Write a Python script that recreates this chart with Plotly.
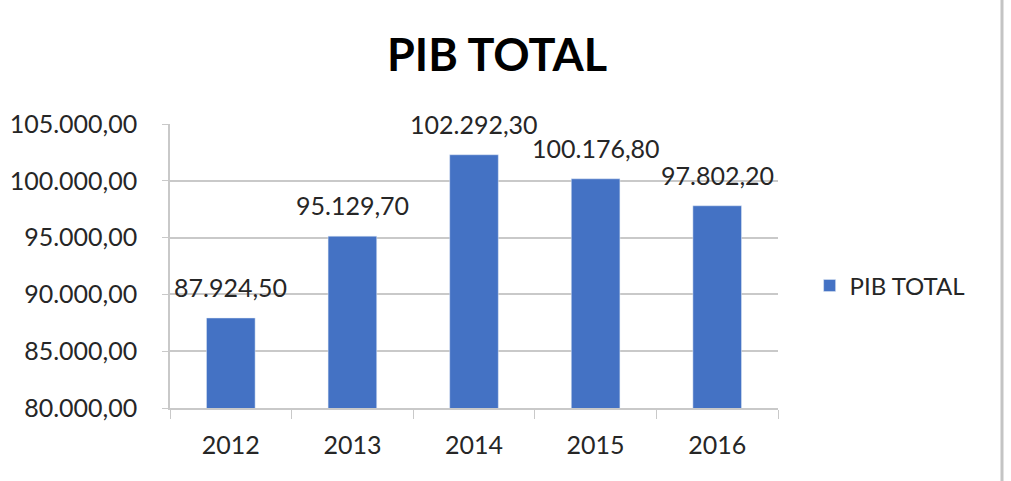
import plotly.graph_objects as go

years = ["2012", "2013", "2014", "2015", "2016"]
pib_total = [87924.50, 95129.70, 102292.30, 100176.80, 97802.20]
tick_vals = [80000, 85000, 90000, 95000, 100000, 105000]
tick_text = ["80.000,00", "85.000,00", "90.000,00", "95.000,00", "100.000,00", "105.000,00"]


def fmt(v):
    s = f"{v:,.2f}"
    return s.replace(",", "X").replace(".", ",").replace("X", ".")


FONT = "Lato"
TXT = "#262626"
BLUE = "#4472C4"
GRID = "#c9c9c9"

fig = go.Figure()
fig.add_trace(go.Bar(
    x=years, y=pib_total, name="PIB TOTAL", marker_color=BLUE,
    width=0.4, showlegend=True,
))

# data labels (category axis -> position by category index)
for i, v in enumerate(pib_total):
    fig.add_annotation(x=i, y=v, text=fmt(v), showarrow=False, yanchor="middle",
                       yshift=31, font=dict(family=FONT, size=25, color=TXT))

fig.update_layout(
    width=1011, height=481,
    margin=dict(l=170, r=233, t=124, b=73, autoexpand=False),
    paper_bgcolor="white", plot_bgcolor="white",
    title=dict(text="<b>PIB TOTAL</b>", x=497 / 1011, xanchor="center",
               y=1 - 55 / 481, yanchor="middle",
               font=dict(family=FONT, size=45, color="#000000")),
    legend=dict(x=1.052, y=0.43, xanchor="left", yanchor="middle",
                font=dict(family=FONT, size=24, color=TXT),
                itemwidth=30, bgcolor="rgba(0,0,0,0)"),
    font=dict(family=FONT, color=TXT),
)

fig.update_yaxes(range=[80000, 105000], tickvals=tick_vals, ticktext=tick_text,
                 showgrid=True, gridcolor=GRID, gridwidth=1.5,
                 showline=True, linecolor=GRID, linewidth=1.5,
                 ticks="outside", ticklen=6, tickcolor=GRID,
                 ticklabelstandoff=20, zeroline=False, automargin=False,
                 tickfont=dict(family=FONT, size=25, color=TXT))
fig.update_xaxes(type="category", range=[-0.5, len(years) - 0.5],
                 showline=True, linecolor=GRID, linewidth=1.5,
                 ticks="outside", ticklen=9, tickcolor=GRID, tickson="boundaries",
                 ticklabelstandoff=14, automargin=False, tickangle=0,
                 tickfont=dict(family=FONT, size=25, color=TXT))

# right border line of the original screenshot
fig.add_shape(type="line", xref="paper", yref="paper",
              x0=(1002 - 170) / 608, x1=(1002 - 170) / 608,
              y0=-(481 - 408) / 284, y1=408 / 284,
              line=dict(color="#c4c4c4", width=3))

fig.write_html("out.html")
